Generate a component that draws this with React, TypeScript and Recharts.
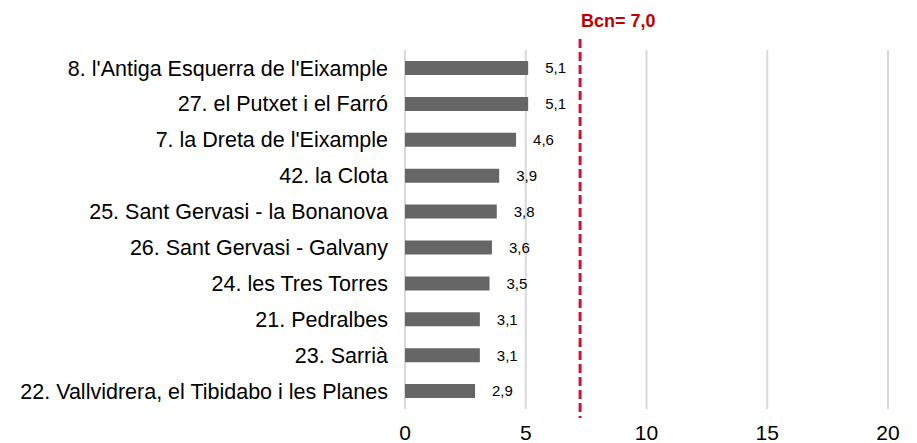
import { BarChart, Bar, XAxis, YAxis, CartesianGrid, ReferenceLine, LabelList } from 'recharts';

const barrios = [
  "8. l'Antiga Esquerra de l'Eixample",
  '27. el Putxet i el Farró',
  "7. la Dreta de l'Eixample",
  '42. la Clota',
  '25. Sant Gervasi - la Bonanova',
  '26. Sant Gervasi - Galvany',
  '24. les Tres Torres',
  '21. Pedralbes',
  '23. Sarrià',
  '22. Vallvidrera, el Tibidabo i les Planes',
];
const valores = [5.1, 5.1, 4.6, 3.9, 3.8, 3.6, 3.5, 3.1, 3.1, 2.9];
const xTicks = [0, 5, 10, 15, 20];
const bcn = 7.25;
const bcnLabel = 'Bcn= 7,0';

const data = barrios.map((name, i) => ({ name, value: valores[i] }));

const fmt = (v: number) => v.toFixed(1).replace('.', ',');

export default function App() {
  return (
    <div style={{ position: 'absolute', left: 0, top: 0, fontFamily: '"Liberation Sans", Arial, sans-serif' }}>
      <BarChart
        width={917}
        height={443}
        data={data}
        layout="vertical"
        margin={{ top: 50, right: 29, bottom: 0, left: 0 }}
      >
        <CartesianGrid horizontal={false} stroke="#d9d9d9" strokeWidth={2} />
        <XAxis
          type="number"
          domain={[0, 20]}
          ticks={xTicks}
          axisLine={false}
          tickLine={false}
          height={34}
          tickMargin={10}
          tick={{ fontSize: 21, fill: '#000' }}
        />
        <YAxis
          type="category"
          dataKey="name"
          width={405}
          axisLine={false}
          tickLine={false}
          tickMargin={11}
          interval={0}
          tick={{ fontSize: 21.5, fill: '#000' }}
        />
        <Bar dataKey="value" fill="#666666" barSize={14} isAnimationActive={false}>
          <LabelList dataKey="value" position="right" offset={17} formatter={(v: any) => fmt(Number(v))} style={{ fontSize: 15, fill: '#000' }} />
        </Bar>
        <ReferenceLine
          x={bcn}
          shape={(p: any) => (
            <line
              x1={p.x1}
              y1={Math.min(p.y1, p.y2) - 11}
              x2={p.x2}
              y2={Math.max(p.y1, p.y2) + 9}
              stroke="#d31130"
              strokeWidth={3}
              strokeDasharray="9 4"
            />
          )}
          label={{
            content: (p: any) => (
              <text x={p.viewBox.x + 1} y={27} fontSize={18} fontWeight="bold" fill="#c00000">
                {bcnLabel}
              </text>
            ),
          }}
        />
      </BarChart>
    </div>
  );
}
